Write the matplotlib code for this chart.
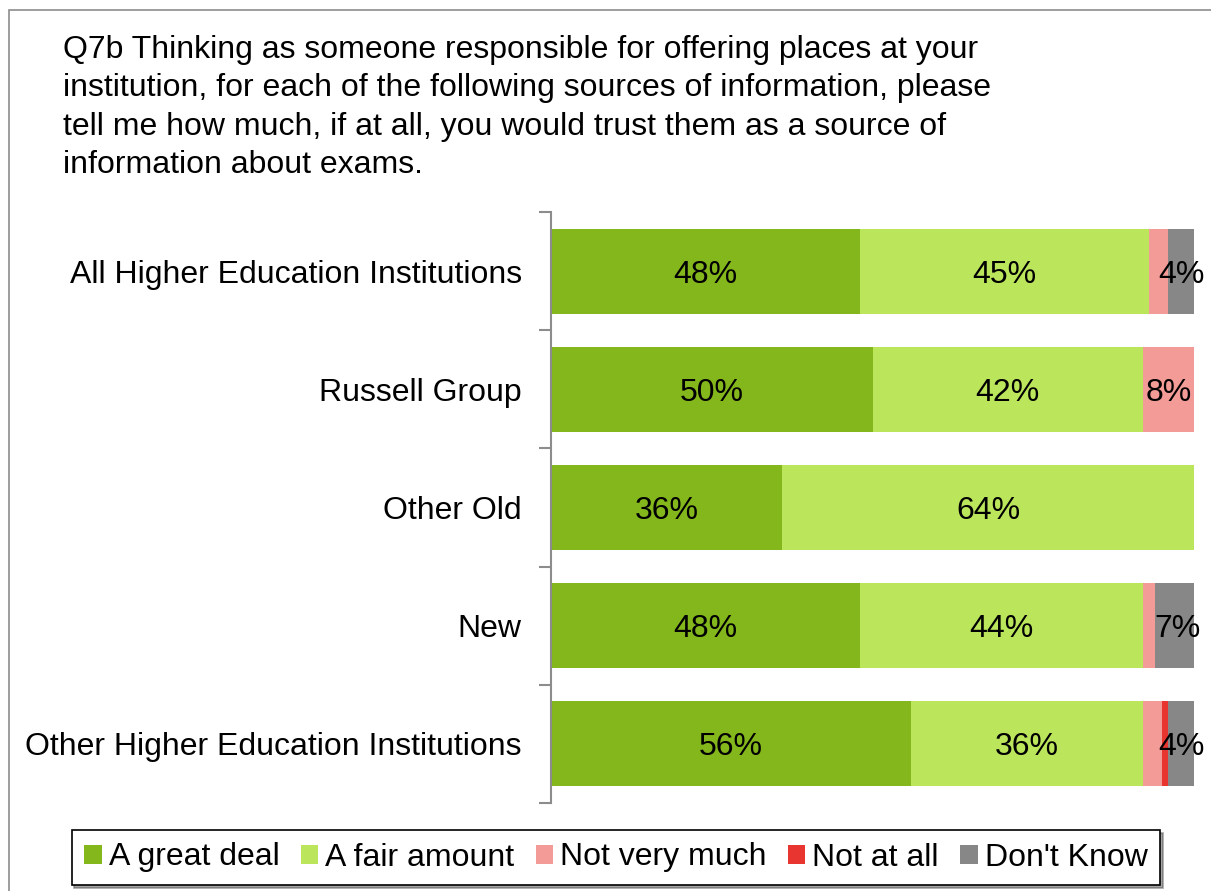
import matplotlib
matplotlib.use("Agg")
import matplotlib.pyplot as plt
from matplotlib.patches import Rectangle, Patch
import numpy as np

plt.rcParams['font.family'] = ['Liberation Sans', 'DejaVu Sans']

categories = ["All Higher Education Institutions", "Russell Group", "Other Old", "New",
              "Other Higher Education Institutions"]
series_names = ["A great deal", "A fair amount", "Not very much", "Not at all", "Don't Know"]
great_deal = [48, 50, 36, 48, 56]
fair_amount = [45, 42, 64, 44, 36]
not_very_much = [3, 8, 0, 2, 3]
not_at_all = [0, 0, 0, 0, 1]
dont_know = [4, 0, 0, 7, 4]
colors = ["#84b71c", "#bbe65c", "#f29b97", "#e8352f", "#878787"]
title = ("Q7b Thinking as someone responsible for offering places at your\n"
         "institution, for each of the following sources of information, please\n"
         "tell me how much, if at all, you would trust them as a source of\n"
         "information about exams.")

FS = 23
W, H = 1211, 891
fig = plt.figure(figsize=(W / 100, H / 100), dpi=100)

# outer frame
fig.patches.append(Rectangle((9 / W, -0.1), 1.2, 1 - 10 / H + 0.1, transform=fig.transFigure,
                             fill=False, edgecolor="#8c8c8c", linewidth=1.2))

ax = fig.add_axes([551 / W, 1 - 803 / H, (1194 - 551) / W, (803 - 212) / H])
data = [great_deal, fair_amount, not_very_much, not_at_all, dont_know]
y = np.arange(len(categories))
left = np.zeros(len(categories))
for vals, c in zip(data, colors):
    vals = np.array(vals, dtype=float)
    ax.barh(y, vals, left=left, height=0.72, color=c, edgecolor='none')
    for yi, v, l in zip(y, vals, left):
        if v >= 4:
            ax.text(l + v / 2, yi, f"{int(v)}%", ha='center', va='center_baseline',
                    fontsize=FS, color='black')
    left += vals

ax.set_xlim(0, 100)
ax.set_ylim(len(categories) - 0.5, -0.5)
ax.set_yticks(y)
ax.set_yticklabels(categories, fontsize=FS)
ax.tick_params(axis='y', which='major', length=0, pad=21)
ax.set_yticks(np.arange(-0.5, len(categories)), minor=True)
ax.tick_params(axis='y', which='minor', length=9, width=1.5, color="#8c8c8c", direction='out')
ax.set_xticks([])
for s in ['top', 'right', 'bottom']:
    ax.spines[s].set_visible(False)
ax.spines['left'].set_color("#8c8c8c")
ax.spines['left'].set_linewidth(1.5)

fig.text(63 / W, 1 - 35 / H, title, ha='left', va='top', fontsize=FS, linespacing=1.36)

handles = [Patch(facecolor=c, edgecolor='none') for c in colors]
leg = fig.legend(handles, series_names, loc='center', bbox_to_anchor=(616 / W, 1 - 857.5 / H),
                 ncol=5, fontsize=FS, frameon=True, fancybox=False, shadow=True,
                 handlelength=0.55, handleheight=0.55, handletextpad=0.22, columnspacing=0.66,
                 borderpad=0.4, borderaxespad=0)
leg.get_frame().set_edgecolor('black')
leg.get_frame().set_linewidth(1.2)

fig.savefig("out.png", dpi=100)
